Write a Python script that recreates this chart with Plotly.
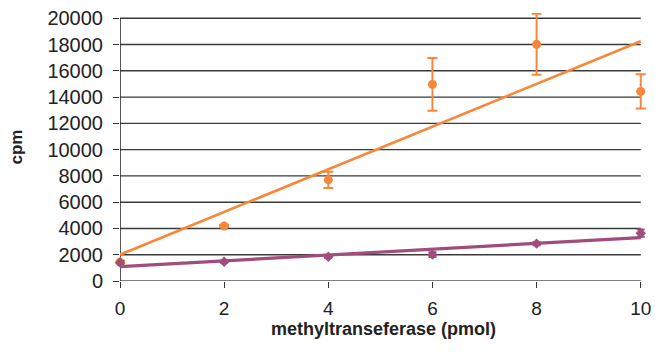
import numpy as np
import plotly.graph_objects as go

# Methyltransferase titration: counts per minute vs enzyme amount
enzyme_pmol = [0, 2, 4, 6, 8, 10]

cpm_orange = [1440, 4190, 7700, 14970, 18020, 14430]
err_orange = [100, 80, 620, 2010, 2320, 1300]

cpm_purple = [1395, 1470, 1850, 2005, 2845, 3640]
err_purple = [120, 90, 90, 180, 120, 280]

x_ticks = [0, 2, 4, 6, 8, 10]
y_ticks = list(range(0, 20001, 2000))

ORANGE = "#f5883a"
PURPLE = "#a04d7b"
FONT = "Liberation Sans, Arial, sans-serif"
TXT = "#222222"
GRID = "#3a3a3a"


def linear_fit(x, y):
    slope, intercept = np.polyfit(x, y, 1)
    xs = np.array([min(x), max(x)], dtype=float)
    return xs, slope * xs + intercept


fig = go.Figure()

# Horizontal gridlines spanning exactly the data extent of x
for yv in y_ticks:
    fig.add_shape(type="line", xref="x", yref="y",
                  x0=x_ticks[0], x1=x_ticks[-1], y0=yv, y1=yv,
                  line=dict(color=GRID if yv else "#555555", width=1.4),
                  layer="below")

# Vertical axis line, drawn only up to the last gridline
fig.add_shape(type="line", xref="x", yref="y",
              x0=x_ticks[0], x1=x_ticks[0], y0=0, y1=y_ticks[-1],
              line=dict(color="#222222", width=1.5), layer="below")

# Least-squares trend lines
for ys, col, w in [(cpm_orange, ORANGE, 2.6), (cpm_purple, PURPLE, 3.2)]:
    fx, fy = linear_fit(enzyme_pmol, ys)
    fig.add_trace(go.Scatter(x=fx, y=fy, mode="lines",
                             line=dict(color=col, width=w),
                             hoverinfo="skip", showlegend=False))

# Measured points with error bars
fig.add_trace(go.Scatter(
    x=enzyme_pmol, y=cpm_orange, mode="markers",
    marker=dict(symbol="circle", size=9, color=ORANGE),
    error_y=dict(type="data", array=err_orange, color=ORANGE,
                 thickness=2, width=5),
    cliponaxis=False, showlegend=False))

fig.add_trace(go.Scatter(
    x=enzyme_pmol, y=cpm_purple, mode="markers",
    marker=dict(symbol="diamond", size=8, color=PURPLE),
    error_y=dict(type="data", array=err_purple, color=PURPLE,
                 thickness=2, width=4),
    cliponaxis=False, showlegend=False))

# small headroom so the outermost error bars are not cut by the plot area
x_right = 10.12
y_top = 20400

fig.update_layout(
    width=655, height=356,
    margin=dict(l=120, r=8, t=13, b=75, autoexpand=False),
    paper_bgcolor="white", plot_bgcolor="white",
    font=dict(family=FONT, color=TXT),
    showlegend=False,
)

fig.update_xaxes(
    range=[0, x_right], tickvals=x_ticks, ticktext=[str(v) for v in x_ticks],
    showgrid=False, zeroline=False, automargin=False, showline=False,
    ticks="outside", ticklen=6, tickwidth=1.3, tickcolor="#333333",
    tickfont=dict(size=19, family=FONT, color=TXT),
    ticklabelstandoff=4,
    title=dict(text="<b>methyltranseferase (pmol)</b>",
               font=dict(size=18, family=FONT, color=TXT),
               standoff=2),
)

fig.update_yaxes(
    range=[0, y_top], tickvals=y_ticks, ticktext=[str(v) for v in y_ticks],
    showgrid=False, zeroline=False, automargin=False, showline=False,
    ticks="outside", ticklen=6, tickwidth=1.3, tickcolor="#333333",
    tickfont=dict(size=20, family=FONT, color=TXT),
    ticklabelstandoff=6,
    title=dict(text="<b>cpm</b>",
               font=dict(size=17, family=FONT, color=TXT),
               standoff=20),
)

fig.write_html("out.html")
